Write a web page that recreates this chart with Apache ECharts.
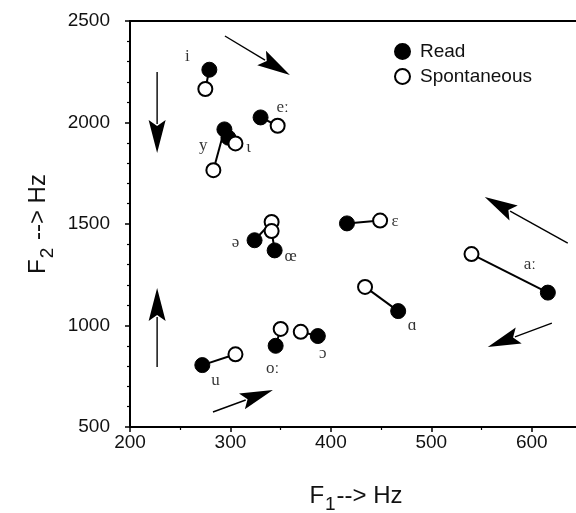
<!DOCTYPE html>
<html><head><meta charset="utf-8">
<script src="https://cdn.jsdelivr.net/npm/echarts@6/dist/echarts.min.js"></script>
<style>html,body{margin:0;padding:0;background:#fff}#c{width:576px;height:513px}</style>
</head><body><div id="c"></div>
<script>
const vowels  = ['i','y','ι','eː','ə','œ','ɛ','aː','ɑ','ɔ','oː','u'];
const readF1  = [279,294,298,330,324,344,416,616,467,387,345,272];
const readF2  = [2260,1966,1925,2025,1420,1370,1503,1162,1071,948,900,805];
const spontF1 = [275,283,305,347,341,341,449,540,434,370,350,305];
const spontF2 = [2165,1765,1897,1984,1510,1465,1517,1352,1190,969,983,858];
const labelF1 = [257,273,318,352,305,360,464,598,481,392,342,285];
const labelF2 = [2323,1889,1879,2076,1411,1342,1510,1298,1002,860,786,727];
const arrowX1 = [294.5,227,227,282.6,620,635.8];
const arrowY1 = [2426,2249,796,574,1012,1406];
const arrowX2 = [359.2,227,227,342.3,556.2,553.2];
const arrowY2 = [2234,1850,1185,682,894,1633];
const xTicks = [200,300,400,500,600];
const yTicks = [500,1000,1500,2000,2500];

const sans = "'Liberation Sans', Arial, sans-serif";
const serif = "'Liberation Serif', 'Times New Roman', serif";

const chart = echarts.init(document.getElementById('c'));
const readData = readF1.map((x,i)=>[x, readF2[i]]);
const spontData = spontF1.map((x,i)=>[x, spontF2[i]]);
const pairData = readF1.map((x,i)=>({coords:[[x, readF2[i]],[spontF1[i], spontF2[i]]]}));
const labelData = labelF1.map((x,i)=>[x, labelF2[i], vowels[i]]);
const arrowData = arrowX1.map((x,i)=>[x, arrowY1[i], arrowX2[i], arrowY2[i]]);

const titleRich = {
  a:{fontFamily:sans, fontSize:24, color:'#111', lineHeight:30, verticalAlign:'top'},
  s:{fontFamily:sans, fontSize:19, color:'#111', lineHeight:14, verticalAlign:'bottom', padding:[12,1,0,1]}
};

chart.setOption({
  animation:false,
  backgroundColor:'#fff',
  grid:{left:130, top:21, width:452, height:406, show:false, outerBoundsMode:'none', containLabel:false},
  legend:{
    left:389, top:37, orient:'vertical', itemWidth:15, itemHeight:15, itemGap:6,
    data:['Read','Spontaneous'],
    textStyle:{fontFamily:sans, fontSize:19, color:'#111', padding:[0,0,0,5]}
  },
  xAxis:[{
    type:'value', min:200, max:650, interval:100,
    axisLine:{show:true, lineStyle:{color:'#000', width:2}},
    axisTick:{show:true, length:5, lineStyle:{color:'#000', width:1.5}},
    minorTick:{show:true, splitNumber:2, length:3, lineStyle:{color:'#000', width:1.2}},
    splitLine:{show:false},
    axisLabel:{fontFamily:sans, fontSize:19, color:'#111', margin:6,
      formatter:v=> xTicks.includes(v) ? String(v) : ''},
    name:'{a|F}{s|1}{a|--> Hz}', nameLocation:'middle', nameGap:57,
    nameTextStyle:{rich:titleRich}
  },{
    type:'value', min:200, max:650, position:'top',
    axisLine:{show:true, onZero:false, lineStyle:{color:'#000', width:2}},
    axisTick:{show:false}, axisLabel:{show:false}, splitLine:{show:false}
  }],
  yAxis:{
    type:'value', min:500, max:2500, interval:500,
    axisLine:{show:true, lineStyle:{color:'#000', width:2}},
    axisTick:{show:true, length:5, lineStyle:{color:'#000', width:1.5}},
    minorTick:{show:true, splitNumber:5, length:3, lineStyle:{color:'#000', width:1.2}},
    splitLine:{show:false},
    axisLabel:{fontFamily:sans, fontSize:19, color:'#111', margin:20,
      formatter:v=> yTicks.includes(v) ? String(v) : ''},
    name:'{a|F}{s|2}{a| --> Hz}', nameLocation:'middle', nameGap:70, nameRotate:90,
    nameTextStyle:{rich:titleRich}
  },
  series:[
    {
      type:'custom', name:'arrows', silent:true, z:1,
      data:arrowData,
      renderItem:(params, api)=>{
        const p1 = api.coord([api.value(0), api.value(1)]);
        const p2 = api.coord([api.value(2), api.value(3)]);
        const dx = p2[0]-p1[0], dy = p2[1]-p1[1];
        const L = Math.sqrt(dx*dx+dy*dy);
        const ux = dx/L, uy = dy/L;
        const hl = 33, hw = 8.5;
        const bx = p2[0]-ux*hl, by = p2[1]-uy*hl;
        const nx = -uy, ny = ux;
        return {type:'group', children:[
          {type:'line', shape:{x1:p1[0], y1:p1[1], x2:bx+ux*4, y2:by+uy*4}, style:{stroke:'#000', lineWidth:1.4}},
          {type:'polygon', shape:{points:[[p2[0],p2[1]],[bx+nx*hw, by+ny*hw],[bx+ux*6, by+uy*6],[bx-nx*hw, by-ny*hw]]}, style:{fill:'#000'}}
        ]};
      }
    },
    {
      type:'lines', coordinateSystem:'cartesian2d', name:'pairs', silent:true, z:2,
      data:pairData, symbol:'none',
      lineStyle:{color:'#000', width:2, opacity:1}
    },
    {
      type:'scatter', name:'Read', data:readData, symbol:'circle', symbolSize:15, z:3,
      itemStyle:{color:'#000', borderColor:'#000', borderWidth:1, opacity:1}
    },
    {
      type:'scatter', name:'Spontaneous', data:spontData, symbol:'circle', symbolSize:14, z:4,
      itemStyle:{color:'#fff', borderColor:'#000', borderWidth:2, opacity:1}
    },
    {
      type:'scatter', name:'labels', data:labelData, symbolSize:0, silent:true, z:5,
      label:{show:true, position:'inside', formatter:p=>p.value[2], fontFamily:serif, fontSize:17, color:'#000'}
    }
  ]
});
</script></body></html>
